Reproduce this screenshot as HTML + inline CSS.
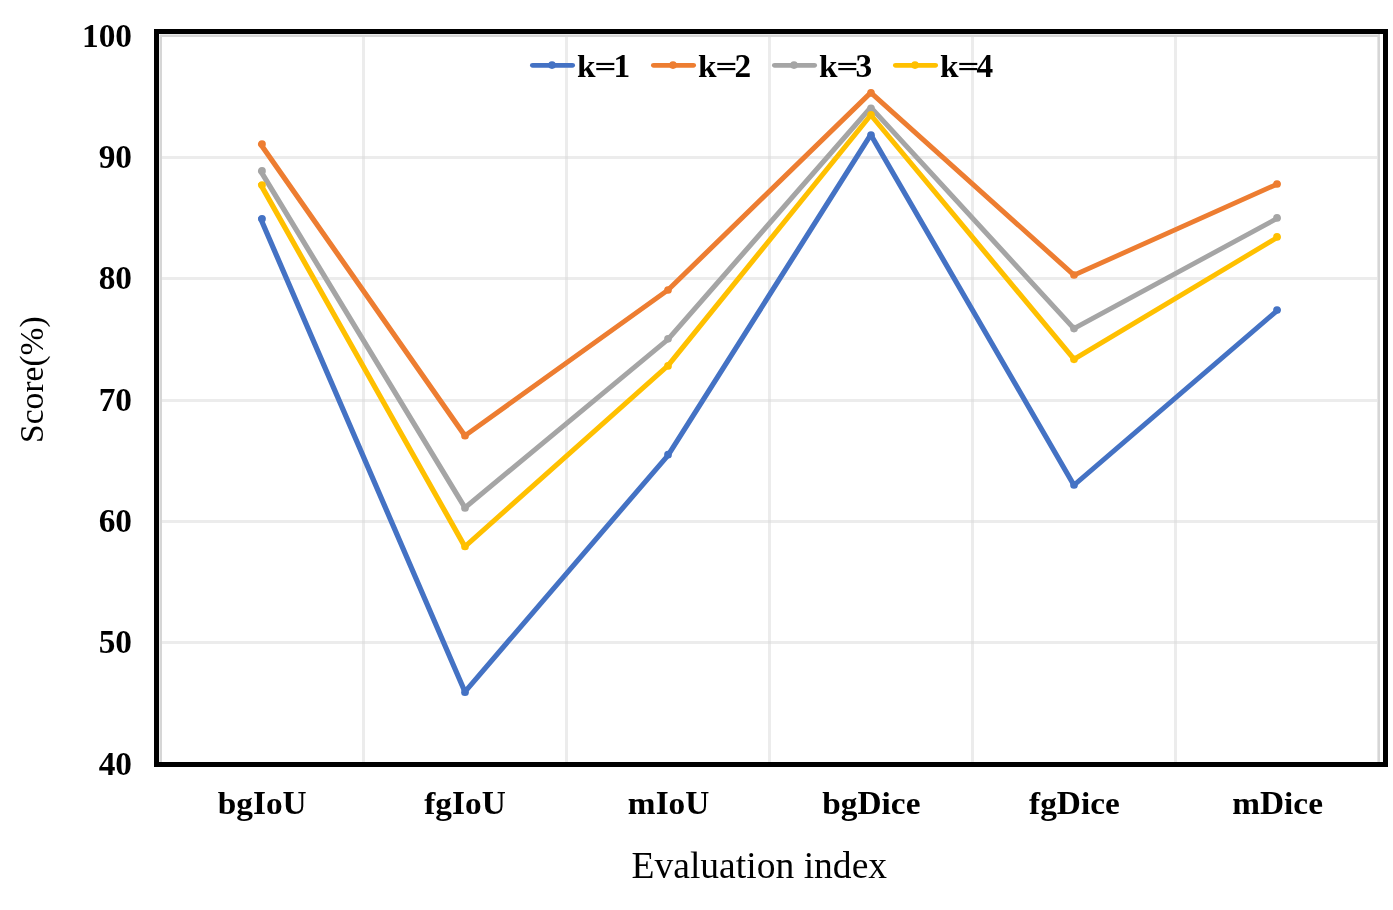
<!DOCTYPE html>
<html>
<head>
<meta charset="utf-8">
<title>Score by evaluation index</title>
<style>
  html, body { margin: 0; padding: 0; background: #ffffff; }
  body { width: 1393px; height: 910px; overflow: hidden; font-family: "Liberation Serif", serif; }
  svg { display: block; position: absolute; left: 0; top: 0; will-change: transform; filter: grayscale(0); }
  text { font-family: "Liberation Serif", serif; fill: #000000; }
  .tick { font-size: 33.33px; font-weight: bold; }
  .ytitle { font-size: 33.55px; font-weight: normal; }
  .xtitle { font-size: 37.6px; font-weight: normal; }
  .s { fill: none; stroke-width: 4.68; stroke-linejoin: round; stroke-linecap: round; }
</style>
</head>
<body>
<svg width="1393" height="910" viewBox="0 0 1393 910">
  <rect x="0" y="0" width="1393" height="910" fill="#ffffff"/>

  <!-- inner gridlines (semi-transparent, darker where they cross) -->
  <g fill="#d9d9d9" fill-opacity="0.5" shape-rendering="crispEdges">
    <rect x="162" y="156" width="1215" height="3"/>
    <rect x="162" y="277" width="1215" height="3"/>
    <rect x="162" y="399" width="1215" height="3"/>
    <rect x="162" y="520" width="1215" height="3"/>
    <rect x="162" y="641" width="1215" height="3"/>
    <rect x="362" y="37" width="3" height="725"/>
    <rect x="565" y="37" width="3" height="725"/>
    <rect x="768" y="37" width="3" height="725"/>
    <rect x="971" y="37" width="3" height="725"/>
    <rect x="1174" y="37" width="3" height="725"/>
  </g>
  <!-- edge lines: 1px light + 2px darker -->
  <g shape-rendering="crispEdges">
    <rect x="160" y="34" width="1220" height="1" fill="#e8e8e8"/>
    <rect x="159" y="35" width="1221" height="2" fill="#d6d6d6"/>
    <rect x="159" y="35" width="1" height="727" fill="#e8e8e8"/>
    <rect x="160" y="35" width="2" height="727" fill="#d6d6d6"/>
    <rect x="1377" y="37" width="1" height="725" fill="#e6e6e6"/>
    <rect x="1378" y="34" width="2" height="728" fill="#d6d6d6"/>
  </g>

  <!-- plot border -->
  <rect x="156.5" y="31.5" width="1229" height="733" fill="none" stroke="#000000" stroke-width="5" shape-rendering="crispEdges"/>

  <!-- series: k=1, k=2, k=3, k=4 -->
  <g>
    <g transform="scale(1.15,1)"><polyline class="s" stroke="#4472C4" points="226.70,218.8 404.26,691.8 580.87,455.3 757.22,134.7 933.91,485.2 1111.22,310.0"/></g>
    <g fill="#4472C4"><circle cx="262" cy="218.8" r="3.85"/><circle cx="465" cy="692.2" r="3.85"/><circle cx="668" cy="454.7" r="3.85"/><circle cx="871" cy="135.2" r="3.85"/><circle cx="1074" cy="485" r="3.85"/><circle cx="1277" cy="310" r="3.85"/></g>
    <g transform="scale(1.15,1)"><polyline class="s" stroke="#ED7D31" points="226.70,144.3 404.26,435.7 580.87,290.0 757.22,92.6 933.91,275.1 1111.22,183.8"/></g>
    <g fill="#ED7D31"><circle cx="262" cy="144.1" r="3.85"/><circle cx="465" cy="435.7" r="3.85"/><circle cx="668" cy="290" r="3.85"/><circle cx="871" cy="92.9" r="3.85"/><circle cx="1074" cy="275" r="3.85"/><circle cx="1277" cy="184" r="3.85"/></g>
    <g transform="scale(1.15,1)"><polyline class="s" stroke="#A5A5A5" points="226.70,171.1 404.26,507.7 580.87,339.4 757.22,107.4 933.91,328.6 1111.22,218.0"/></g>
    <g fill="#A5A5A5"><circle cx="262" cy="170.9" r="3.85"/><circle cx="465" cy="508" r="3.85"/><circle cx="668" cy="338.8" r="3.85"/><circle cx="871" cy="108.3" r="3.85"/><circle cx="1074" cy="328.6" r="3.85"/><circle cx="1277" cy="217.9" r="3.85"/></g>
    <g transform="scale(1.15,1)"><polyline class="s" stroke="#FFC000" points="226.70,184.6 404.26,546.6 580.87,365.6 757.22,115.0 933.91,359.2 1111.22,237.1"/></g>
    <g fill="#FFC000"><circle cx="262" cy="185.0" r="3.85"/><circle cx="465" cy="546.5" r="3.85"/><circle cx="668" cy="365.9" r="3.85"/><circle cx="871" cy="114.9" r="3.85"/><circle cx="1074" cy="359.3" r="3.85"/><circle cx="1277" cy="236.9" r="3.85"/></g>
  </g>

  <!-- legend -->
  <g>
    <g transform="scale(1.15,1)"><line class="s" stroke="#4472C4" x1="463.21" y1="65.3" x2="497.66" y2="65.3"/></g><circle cx="552.0" cy="65.1" r="3.85" fill="#4472C4"/>
    <text class="tick" transform="translate(577.00,77) scale(1,0.915)">k</text>
    <rect x="596.30" y="62.9" width="18" height="2.15"/><rect x="596.30" y="68.0" width="18" height="2.15"/>
    <text class="tick" x="613.60" y="77">1</text>
    <g transform="scale(1.15,1)"><line class="s" stroke="#ED7D31" x1="568.43" y1="65.3" x2="602.88" y2="65.3"/></g><circle cx="673.0" cy="65.1" r="3.85" fill="#ED7D31"/>
    <text class="tick" transform="translate(698.00,77) scale(1,0.915)">k</text>
    <rect x="717.30" y="62.9" width="18" height="2.15"/><rect x="717.30" y="68.0" width="18" height="2.15"/>
    <text class="tick" x="734.60" y="77">2</text>
    <g transform="scale(1.15,1)"><line class="s" stroke="#A5A5A5" x1="673.64" y1="65.3" x2="708.09" y2="65.3"/></g><circle cx="794.0" cy="65.1" r="3.85" fill="#A5A5A5"/>
    <text class="tick" transform="translate(819.00,77) scale(1,0.915)">k</text>
    <rect x="838.30" y="62.9" width="18" height="2.15"/><rect x="838.30" y="68.0" width="18" height="2.15"/>
    <text class="tick" x="855.60" y="77">3</text>
    <g transform="scale(1.15,1)"><line class="s" stroke="#FFC000" x1="778.86" y1="65.3" x2="813.31" y2="65.3"/></g><circle cx="915.0" cy="65.1" r="3.85" fill="#FFC000"/>
    <text class="tick" transform="translate(940.00,77) scale(1,0.915)">k</text>
    <rect x="959.30" y="62.9" width="18" height="2.15"/><rect x="959.30" y="68.0" width="18" height="2.15"/>
    <text class="tick" x="976.60" y="77">4</text>
  </g>

  <!-- y tick labels -->
  <g class="tick" text-anchor="end">
    <text x="132" y="47">100</text>
    <text x="132" y="168">90</text>
    <text x="132" y="289">80</text>
    <text x="132" y="411">70</text>
    <text x="132" y="532">60</text>
    <text x="132" y="653">50</text>
    <text x="132" y="775">40</text>
  </g>

  <!-- x tick labels -->
  <g>
    <text class="tick" transform="translate(217.75,814) scale(1,0.915)">bg</text>
    <text class="tick" x="252.95" y="814">I</text>
    <text class="tick" transform="translate(265.92,814) scale(1,0.915)">o</text>
    <text class="tick" x="282.58" y="814">U</text>
    <text class="tick" transform="translate(424.27,814) scale(1,0.915)">fg</text>
    <text class="tick" x="452.03" y="814">I</text>
    <text class="tick" transform="translate(465.00,814) scale(1,0.915)">o</text>
    <text class="tick" x="481.67" y="814">U</text>
    <text class="tick" transform="translate(627.87,814) scale(1,0.915)">m</text>
    <text class="tick" x="655.63" y="814">I</text>
    <text class="tick" transform="translate(668.60,814) scale(1,0.915)">o</text>
    <text class="tick" x="685.26" y="814">U</text>
    <text class="tick" transform="translate(822.34,814) scale(1,0.915)">bg</text>
    <text class="tick" x="857.54" y="814">D</text>
    <text class="tick" transform="translate(881.61,814) scale(1,0.915)">ice</text>
    <text class="tick" transform="translate(1029.06,814) scale(1,0.915)">fg</text>
    <text class="tick" x="1056.82" y="814">D</text>
    <text class="tick" transform="translate(1080.89,814) scale(1,0.915)">ice</text>
    <text class="tick" transform="translate(1232.26,814) scale(1,0.915)">m</text>
    <text class="tick" x="1260.02" y="814">D</text>
    <text class="tick" transform="translate(1284.09,814) scale(1,0.915)">ice</text>
  </g>

  <!-- axis titles -->
  <text class="xtitle" text-anchor="middle" x="759.3" y="878">Evaluation index</text>
  <text class="ytitle" text-anchor="middle" transform="translate(42.8,379.6) rotate(-90)">Score(%)</text>
</svg>
</body>
</html>
